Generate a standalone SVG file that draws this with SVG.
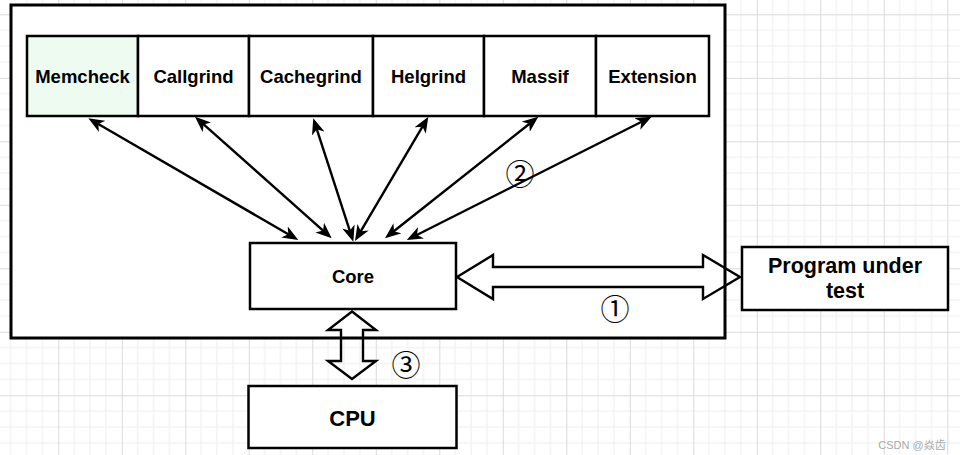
<svg xmlns="http://www.w3.org/2000/svg" width="960" height="455" viewBox="0 0 960 455">
  <defs>
    <pattern id="grid" patternUnits="userSpaceOnUse" x="58.3" y="14.3" width="63.5" height="63.5">
      <path d="M15.875,0V63.5M31.75,0V63.5M47.625,0V63.5M0,15.875H63.5M0,31.75H63.5M0,47.625H63.5" stroke="#eeeeee" stroke-width="1" fill="none"/>
      <path d="M0.5,0V63.5M0,0.5H63.5" stroke="#dadada" stroke-width="1" fill="none"/>
    </pattern>
    <marker id="ah" viewBox="0 0 16 13" refX="12" refY="6.5" markerWidth="16" markerHeight="13" markerUnits="userSpaceOnUse" orient="auto-start-reverse">
      <path d="M0,0 L16,6.5 L0,13 L4.5,6.5 Z" fill="#000"/>
    </marker>
  </defs>
  <style>
    .box { fill: #fff; stroke: #000; stroke-width: 2.5; }
    .lbl { font-family: "Liberation Sans", Arial, sans-serif; font-weight: bold; fill: #000; text-anchor: middle; }
    .tool { font-size: 18.5px; }
    .num { font-family: "Noto Sans CJK SC", "DejaVu Sans", sans-serif; font-size: 29px; fill: #000; text-anchor: middle; dominant-baseline: central; }
    .conn line { stroke: #000; stroke-width: 2.4; marker-start: url(#ah); marker-end: url(#ah); }
    .block { fill: none; stroke: #000; stroke-width: 2.4; stroke-linejoin: miter; }
  </style>
  <rect x="0" y="0" width="960" height="455" fill="#fff"/>
  <rect x="0" y="0" width="960" height="455" fill="url(#grid)"/>

  <g id="container">
    <rect x="11" y="5" width="714" height="333" fill="#fff" stroke="#000" stroke-width="3"/>
  </g>

  <g id="memcheck">
    <rect class="box" x="27" y="36" width="111" height="80" style="fill:#eefbf1"/>
    <text class="lbl tool" x="82.5" y="83">Memcheck</text>
  </g>
  <g id="callgrind">
    <rect class="box" x="138" y="36" width="111" height="80"/>
    <text class="lbl tool" x="193.5" y="83">Callgrind</text>
  </g>
  <g id="cachegrind">
    <rect class="box" x="249" y="36" width="124" height="80"/>
    <text class="lbl tool" x="311" y="83">Cachegrind</text>
  </g>
  <g id="helgrind">
    <rect class="box" x="373" y="36" width="111" height="80"/>
    <text class="lbl tool" x="428.5" y="83">Helgrind</text>
  </g>
  <g id="massif">
    <rect class="box" x="484" y="36" width="112" height="80"/>
    <text class="lbl tool" x="540" y="83">Massif</text>
  </g>
  <g id="extension">
    <rect class="box" x="596" y="36" width="113" height="80"/>
    <text class="lbl tool" x="652.5" y="83">Extension</text>
  </g>

  <g id="core">
    <rect class="box" x="250" y="243" width="206" height="66"/>
    <text class="lbl tool" x="353" y="283">Core</text>
  </g>
  <g id="program">
    <rect class="box" x="742" y="247" width="206" height="63"/>
    <text class="lbl" x="845" y="272.5" font-size="21.5">Program under</text>
    <text class="lbl" x="845" y="298" font-size="21.5">test</text>
  </g>
  <g id="cpu">
    <rect class="box" x="248.5" y="386" width="208" height="62"/>
    <text class="lbl" x="352.5" y="426" font-size="22">CPU</text>
  </g>

  <g id="connectors" class="conn">
    <line x1="91.8" y1="120.3" x2="294.8" y2="238"/>
    <line x1="198" y1="119.4" x2="328.7" y2="235.6"/>
    <line x1="314.5" y1="122.1" x2="352.1" y2="237.9"/>
    <line x1="426.3" y1="120.2" x2="357" y2="237.6"/>
    <line x1="535.2" y1="119.2" x2="388.1" y2="235.8"/>
    <line x1="648.1" y1="118.5" x2="410.3" y2="238.2"/>
    <polygon class="block" points="457,277 493,255 493,267 703,267 703,255 740,277 703,299 703,287 493,287 493,299"/>
    <polygon class="block" points="352,311.5 376,330 363,330 363,361 376,361 352,379 328,361 341,361 341,330 328,330"/>
  </g>

  <g id="labels">
    <text class="num" x="615" y="307">①</text>
    <text class="num" x="520" y="172">②</text>
    <text class="num" x="406" y="363">③</text>
  </g>

  <text x="912" y="449" font-family="Liberation Sans, 'Noto Sans CJK SC', sans-serif" font-size="11" fill="#aaaaaa" text-anchor="middle">CSDN @焱齿</text>
</svg>
